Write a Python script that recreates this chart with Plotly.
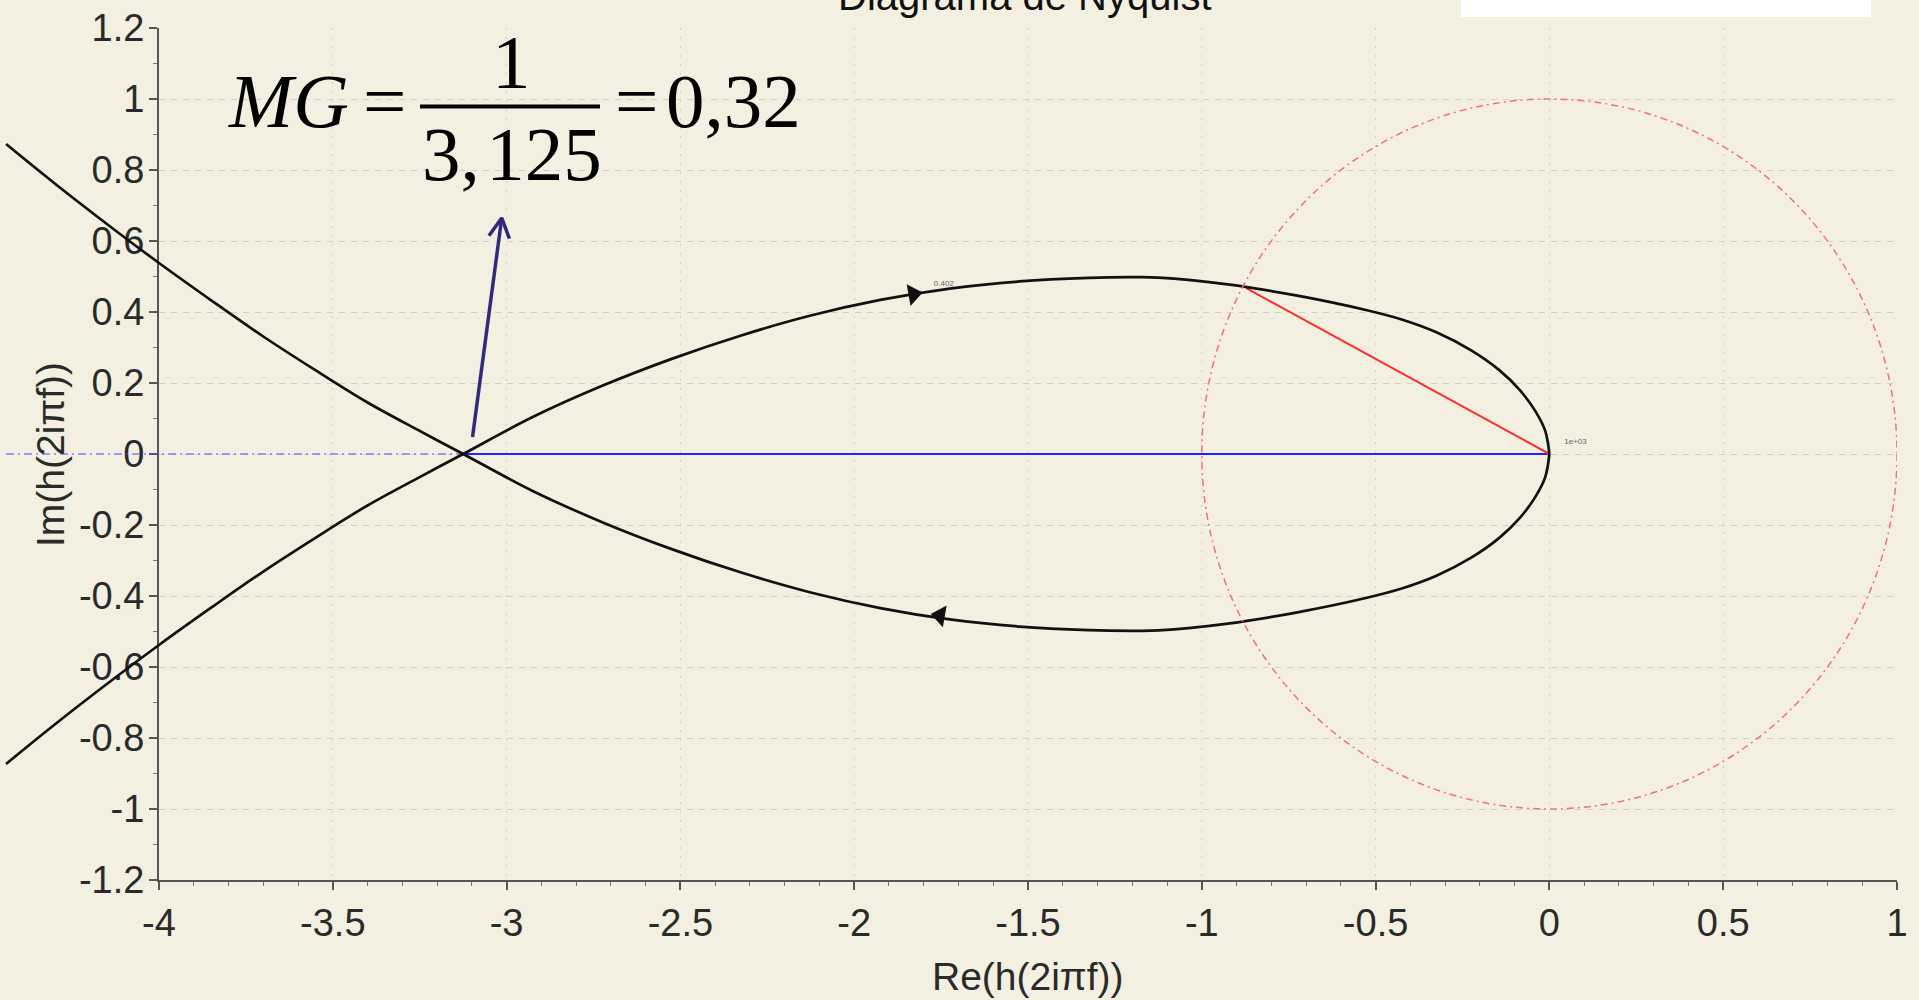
import math
import plotly.graph_objects as go

# ---------------- data ----------------
# left arm of the Nyquist curve (upper-left arm, Im > 0), from the left edge to the real-axis crossing
arm_re = [-4.44, -4.30, -4.15, -4.00, -3.85, -3.70, -3.55, -3.40, -3.25, -3.125]
arm_im = [0.873, 0.762, 0.648, 0.538, 0.433, 0.331, 0.236, 0.145, 0.065, 0.0]
# upper loop, from the real-axis crossing to the origin
loop_re = [-3.125, -2.925, -2.725, -2.525, -2.325, -2.125, -1.925, -1.725, -1.525, -1.325,
           -1.20, -1.125, -0.925, -0.725, -0.525, -0.425, -0.325, -0.225, -0.145, -0.085,
           -0.04, -0.012, 0.0]
loop_im = [0.0, 0.104, 0.192, 0.268, 0.334, 0.390, 0.434, 0.466, 0.486, 0.496,
           0.498, 0.497, 0.478, 0.446, 0.405, 0.379, 0.343, 0.292, 0.237, 0.180,
           0.120, 0.065, 0.0]

crossing_re = [-3.125, 0.0]          # solid blue segment on the real axis
crossing_im = [0.0, 0.0]
real_axis_dash_re = [-4.44, -3.125]  # blue dash-dot part of the real axis
real_axis_dash_im = [0.0, 0.0]
margin_vec_re = [0.0, -0.872]        # red segment: origin -> |h| = 1 point
margin_vec_im = [0.0, 0.467]
unit_circle_radius = 1.0

arrow_re = [-1.83, -1.753]           # direction arrows on the curve
arrow_im = [0.450, -0.455]
freq_label_text = ["0.402", "1e+03"]
freq_label_re = [-1.742, 0.075]
freq_label_im = [0.48, 0.035]

mg_arrow_tail = (-3.098, 0.048)
mg_arrow_head = (-3.014, 0.665)

x_tick_vals = [-4, -3.5, -3, -2.5, -2, -1.5, -1, -0.5, 0, 0.5, 1]
x_tick_text = ["-4", "-3.5", "-3", "-2.5", "-2", "-1.5", "-1", "-0.5", "0", "0.5", "1"]
y_tick_vals = [-1.2, -1.0, -0.8, -0.6, -0.4, -0.2, 0.0, 0.2, 0.4, 0.6, 0.8, 1.0, 1.2]
y_tick_text = ["-1.2", "-1", "-0.8", "-0.6", "-0.4", "-0.2", "0", "0.2", "0.4", "0.6", "0.8", "1", "1.2"]

title_text = "Diagrama de Nyquist"
x_title = "Re(h(2iπf))"
y_title = "Im(h(2iπf))"
mg_lhs = "<i>MG</i>"
mg_num = "1"
mg_den = "3,\u200a125"
mg_rhs = "0,32"

# ---------------- layout geometry (pixels) ----------------
W, H = 1919, 1000
plot_left, plot_right, plot_top, plot_bottom = 159, 1897, 28, 880
wide_left = 5
x_range = [-4.0, 1.0]
y_range = [-1.2, 1.2]
px_per_x = (plot_right - plot_left) / (x_range[1] - x_range[0])
px_per_y = (plot_bottom - plot_top) / (y_range[1] - y_range[0])
wide_x0 = x_range[0] - (plot_left - wide_left) / px_per_x

BG = "#F3F0E1"
AXIS = "#555555"
SANS = "Liberation Sans, Arial, sans-serif"
SERIF = "Liberation Serif, Times New Roman, serif"

# branches of the curve
branch_a_re = arm_re + loop_re[1:]
branch_a_im = [-v for v in arm_im] + loop_im[1:]
branch_b_re = branch_a_re
branch_b_im = [-v for v in branch_a_im]

fig = go.Figure()

# main subplot (axes, grid, reference marks)
fig.add_trace(go.Scatter(x=crossing_re, y=crossing_im, mode="lines",
                         line=dict(color="#2222FF", width=2), xaxis="x", yaxis="y",
                         hoverinfo="skip"))
fig.add_trace(go.Scatter(x=margin_vec_re, y=margin_vec_im, mode="lines",
                         line=dict(color="#FF2B2B", width=2), xaxis="x", yaxis="y",
                         hoverinfo="skip"))

# wide subplot (marks allowed to run left of the y axis)
fig.add_trace(go.Scatter(x=real_axis_dash_re, y=real_axis_dash_im, mode="lines",
                         line=dict(color="#4A4AF5", width=1.2, dash="8px,4px,2px,4px"),
                         xaxis="x2", yaxis="y2", hoverinfo="skip"))
for bre, bim in ((branch_a_re, branch_a_im), (branch_b_re, branch_b_im)):
    fig.add_trace(go.Scatter(x=bre, y=bim, mode="lines",
                             line=dict(color="#111111", width=2.7, shape="spline", smoothing=1.0),
                             xaxis="x2", yaxis="y2", hoverinfo="skip"))
fig.add_trace(go.Scatter(x=[arrow_re[0]], y=[arrow_im[0]], mode="markers",
                         marker=dict(symbol="triangle-right", size=19, color="#111111", angle=-10,
                                     line=dict(width=0)),
                         xaxis="x2", yaxis="y2", hoverinfo="skip"))
fig.add_trace(go.Scatter(x=[arrow_re[1]], y=[arrow_im[1]], mode="markers",
                         marker=dict(symbol="triangle-left", size=19, color="#111111", angle=10,
                                     line=dict(width=0)),
                         xaxis="x2", yaxis="y2", hoverinfo="skip"))
fig.add_trace(go.Scatter(x=freq_label_re, y=freq_label_im, mode="text", text=freq_label_text,
                         textfont=dict(family=SANS, size=8, color="#666666"),
                         xaxis="x2", yaxis="y2", hoverinfo="skip"))

# navy arrow pointing at the gain-margin formula
tx, ty = mg_arrow_tail
hx, hy = mg_arrow_head
ang = math.atan2((hy - ty) * px_per_y, (hx - tx) * px_per_x)
arm_len, spread = 22.0, math.radians(28)
arms = []
for s in (1, -1):
    a = ang + math.pi + s * spread
    arms.append((hx + math.cos(a) * arm_len / px_per_x, hy + math.sin(a) * arm_len / px_per_y))
fig.add_trace(go.Scatter(x=[tx, hx, None, arms[0][0], hx, arms[1][0]],
                         y=[ty, hy, None, arms[0][1], hy, arms[1][1]],
                         mode="lines", line=dict(color="#33297A", width=3.5),
                         xaxis="x2", yaxis="y2", hoverinfo="skip"))

tickfont = dict(family=SANS, size=38, color="#2A2A2A")
fig.update_layout(
    width=W, height=H, template="none",
    paper_bgcolor=BG, plot_bgcolor="rgba(0,0,0,0)",
    margin=dict(l=0, r=0, t=0, b=0),
    showlegend=False,
    xaxis=dict(domain=[plot_left / W, plot_right / W], range=x_range, anchor="y",
               tickmode="array", tickvals=x_tick_vals, ticktext=x_tick_text,
               ticks="outside", ticklen=8, tickwidth=1.5, tickcolor=AXIS,
               showline=True, linecolor=AXIS, linewidth=2,
               showgrid=True, gridcolor="#D4D1C4", gridwidth=1, griddash="2px,7px",
               zeroline=False, automargin=False, tickfont=tickfont,
               minor=dict(tickmode="linear", tick0=0, dtick=0.1, ticks="outside", ticklen=4,
                          tickwidth=1, tickcolor="#777777", showgrid=False)),
    yaxis=dict(domain=[(H - plot_bottom) / H, (H - plot_top) / H], range=y_range, anchor="x",
               tickmode="array", tickvals=y_tick_vals, ticktext=y_tick_text,
               ticks="outside", ticklen=8, tickwidth=1.5, tickcolor=AXIS,
               showline=True, linecolor=AXIS, linewidth=2, ticklabelstandoff=-3,
               showgrid=True, gridcolor="#D4D1C4", gridwidth=1, griddash="6px,6px",
               zeroline=False, automargin=False, tickfont=tickfont,
               minor=dict(tickmode="linear", tick0=0, dtick=0.1, ticks="outside", ticklen=4,
                          tickwidth=1, tickcolor="#777777", showgrid=False)),
    xaxis2=dict(domain=[wide_left / W, plot_right / W], range=[wide_x0, x_range[1]],
                anchor="y2", visible=False, showgrid=False, zeroline=False),
    yaxis2=dict(domain=[(H - plot_bottom) / H, (H - plot_top) / H], range=y_range,
                anchor="x2", visible=False, showgrid=False, zeroline=False),
)

def mid_y(baseline_px, fs, asc_desc_mid):
    return 1 - (baseline_px - asc_desc_mid * fs) / H

FS_T = 40
FS_F = 77
SERIF_MID = 0.3375
SANS_MID = 0.3465
annotations = [
    dict(text=title_text, x=1025 / W, y=mid_y(10, FS_T, SANS_MID), xref="paper", yref="paper",
         xanchor="center", yanchor="middle", showarrow=False,
         font=dict(family=SANS, size=FS_T, color="#111111")),
    dict(text=x_title, x=1028 / W, y=mid_y(990, 39, SANS_MID), xref="paper", yref="paper",
         xanchor="center", yanchor="middle", showarrow=False,
         font=dict(family=SANS, size=39, color="#2A2A2A")),
    dict(text=y_title, x=50 / W, y=1 - 455 / H, xref="paper", yref="paper", textangle=-90,
         xanchor="center", yanchor="middle", showarrow=False,
         font=dict(family=SANS, size=39, color="#2A2A2A")),
    dict(text=mg_lhs, x=226 / W, y=mid_y(127, 77, SERIF_MID), xref="paper", yref="paper",
         xanchor="left", yanchor="middle", showarrow=False,
         font=dict(family=SERIF, size=FS_F, color="#000000")),
    dict(text="=", x=384 / W, y=mid_y(127, FS_F, SERIF_MID), xref="paper", yref="paper",
         xanchor="center", yanchor="middle", showarrow=False,
         font=dict(family=SERIF, size=FS_F, color="#000000")),
    dict(text=mg_num, x=511 / W, y=mid_y(88, FS_F, SERIF_MID), xref="paper", yref="paper",
         xanchor="center", yanchor="middle", showarrow=False,
         font=dict(family=SERIF, size=FS_F, color="#000000")),
    dict(text=mg_den, x=512 / W, y=mid_y(180, FS_F, SERIF_MID), xref="paper", yref="paper",
         xanchor="center", yanchor="middle", showarrow=False,
         font=dict(family=SERIF, size=FS_F, color="#000000")),
    dict(text="=", x=636 / W, y=mid_y(127, FS_F, SERIF_MID), xref="paper", yref="paper",
         xanchor="center", yanchor="middle", showarrow=False,
         font=dict(family=SERIF, size=FS_F, color="#000000")),
    dict(text=mg_rhs, x=664 / W, y=mid_y(127, FS_F, SERIF_MID), xref="paper", yref="paper",
         xanchor="left", yanchor="middle", showarrow=False,
         font=dict(family=SERIF, size=FS_F, color="#000000")),
]
fig.update_layout(annotations=annotations)

shapes = [
    dict(type="circle", xref="x", yref="y",
         x0=-unit_circle_radius, x1=unit_circle_radius,
         y0=-unit_circle_radius, y1=unit_circle_radius,
         line=dict(color="#EE7474", width=1.5, dash="7px,4px,2px,4px"), layer="above"),
    dict(type="line", xref="paper", yref="paper", x0=420 / W, x1=600 / W,
         y0=1 - 106.5 / H, y1=1 - 106.5 / H, line=dict(color="#000000", width=4)),
    dict(type="rect", xref="paper", yref="paper", x0=1461 / W, x1=1871 / W,
         y0=1 - 17 / H, y1=1.02, fillcolor="#FFFFFF", line=dict(width=0)),
]
fig.update_layout(shapes=shapes)

fig.write_html("out.html", config={"displayModeBar": False},
               post_script="document.body.style.margin='0px';document.body.style.overflow='hidden';")
